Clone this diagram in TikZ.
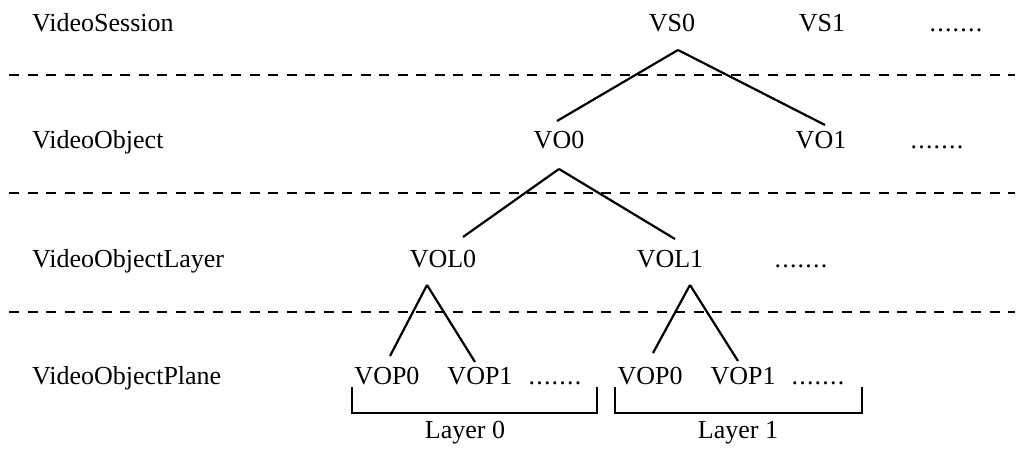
\documentclass[tikz,border=0pt]{standalone}
\usepackage{fontspec}
\setmainfont{Liberation Serif}
\newcommand\moredots{.\kern1.2pt.\kern1.2pt.\kern1.2pt.\kern1.2pt.\kern1.2pt.\kern1.2pt.}
\begin{document}
\begin{tikzpicture}[x=1pt,y=-1pt,
  every node/.style={font=\fontsize{26}{30}\selectfont, inner sep=0pt, anchor=base},
  row/.style={anchor=base west},
  link/.style={line width=2.2pt},
  sep/.style={line width=2.6pt, dash pattern=on 10pt off 8.5pt}]
  \useasboundingbox (0,0) rectangle (1020,449);

  % level names
  \node[row] (vs)  at (32,32)  {VideoSession};
  \node[row] (vo)  at (32,149) {VideoObject};
  \node[row] (vol) at (32,267) {VideoObjectLayer};
  \node[row] (vop) at (32,384) {VideoObjectPlane};

  \node (vs0) at (672,32) {VS0};
  \node (vs1) at (822,32) {VS1};
  \node (vsd) at (956,32) {\moredots};

  \node (vo0) at (559,149) {VO0};
  \node (vo1) at (821,149) {VO1};
  \node (vod) at (937,149) {\moredots};

  \node (vol0) at (443,267) {VOL0};
  \node (vol1) at (670,267) {VOL1};
  \node (vold) at (801,267) {\moredots};

  \node (vop00) at (387,384) {VOP0};
  \node (vop01) at (480,384) {VOP1};
  \node (vopd0) at (555,384) {\moredots};
  \node (vop10) at (650,384) {VOP0};
  \node (vop11) at (743,384) {VOP1};
  \node (vopd1) at (818,384) {\moredots};

  \node (lay0) at (465,438) {Layer 0};
  \node (lay1) at (738,438) {Layer 1};

  \foreach \y in {75,193,312}
    \draw[sep] (9,\y) -- (1015,\y);

  \draw[link] ([xshift=6pt,yshift=-18pt]vs0.base) -- ([xshift=-2pt,yshift=28pt]vo0.base)
              ([xshift=6pt,yshift=-18pt]vs0.base) -- ([xshift=4pt,yshift=24pt]vo1.base);
  \draw[link] ([yshift=-20pt]vo0.base) -- ([xshift=20pt,yshift=30pt]vol0.base)
              ([yshift=-20pt]vo0.base) -- ([xshift=5pt,yshift=28pt]vol1.base);
  \draw[link] ([xshift=-16pt,yshift=-18pt]vol0.base) -- ([xshift=3pt,yshift=28pt]vop00.base)
              ([xshift=-16pt,yshift=-18pt]vol0.base) -- ([xshift=-5pt,yshift=22pt]vop01.base);
  \draw[link] ([xshift=20pt,yshift=-18pt]vol1.base) -- ([xshift=3pt,yshift=31pt]vop10.base)
              ([xshift=20pt,yshift=-18pt]vol1.base) -- ([xshift=-5pt,yshift=23pt]vop11.base);

  % layer brackets
  \draw[link] (352,387) |- (597,413) -- (597,387);
  \draw[link] (615,387) |- (862,413) -- (862,387);
\end{tikzpicture}
\end{document}
